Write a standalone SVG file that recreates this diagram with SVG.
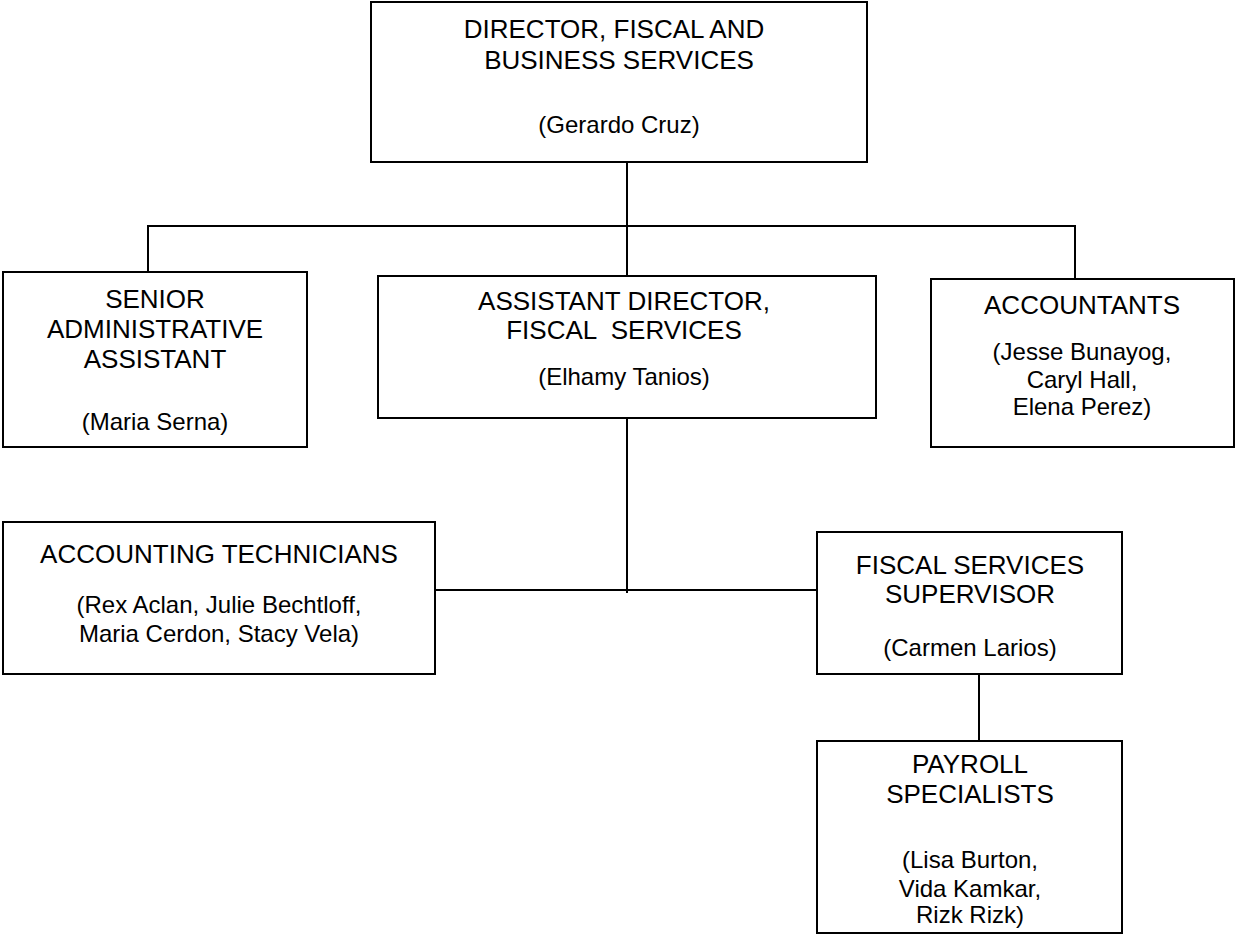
<svg xmlns="http://www.w3.org/2000/svg" width="1236" height="945" viewBox="0 0 1236 945">
<style>
.box{fill:#fff;stroke:#000;stroke-width:2}
line{stroke:#000;stroke-width:2}
text{font-family:"Liberation Sans",Arial,sans-serif;fill:#000;text-anchor:middle}
.t{font-size:26px}
.n{font-size:24px}
</style>
<rect width="1236" height="945" fill="#fff"/>
<g id="connectors">
<line x1="627" y1="162" x2="627" y2="276"/>
<line x1="147" y1="226" x2="1075" y2="226"/>
<line x1="148" y1="225" x2="148" y2="272"/>
<line x1="1075" y1="225" x2="1075" y2="279"/>
<line x1="627" y1="418" x2="627" y2="593"/>
<line x1="435" y1="590" x2="817" y2="590"/>
<line x1="979" y1="674" x2="979" y2="741"/>
</g>
<g id="director">
<rect class="box" x="371" y="2" width="496" height="160"/>
<text class="t" x="614" y="38">DIRECTOR, FISCAL AND</text>
<text class="t" x="619" y="69">BUSINESS SERVICES</text>
<text class="n" x="619" y="133">(Gerardo Cruz)</text>
</g>
<g id="senior-admin">
<rect class="box" x="3" y="272" width="304" height="175"/>
<text class="t" x="155" y="308">SENIOR</text>
<text class="t" x="155" y="338">ADMINISTRATIVE</text>
<text class="t" x="155" y="368">ASSISTANT</text>
<text class="n" x="155" y="430">(Maria Serna)</text>
</g>
<g id="assistant-director">
<rect class="box" x="378" y="276" width="498" height="142"/>
<text class="t" x="624" y="310">ASSISTANT DIRECTOR,</text>
<text class="t" x="624" y="339" xml:space="preserve">FISCAL  SERVICES</text>
<text class="n" x="624" y="385">(Elhamy Tanios)</text>
</g>
<g id="accountants">
<rect class="box" x="931" y="279" width="303" height="168"/>
<text class="t" x="1082" y="314">ACCOUNTANTS</text>
<text class="n" x="1082" y="360">(Jesse Bunayog,</text>
<text class="n" x="1082" y="388">Caryl Hall,</text>
<text class="n" x="1082" y="415">Elena Perez)</text>
</g>
<g id="accounting-technicians">
<rect class="box" x="3" y="522" width="432" height="152"/>
<text class="t" x="219" y="563">ACCOUNTING TECHNICIANS</text>
<text class="n" x="219" y="613">(Rex Aclan, Julie Bechtloff,</text>
<text class="n" x="219" y="642">Maria Cerdon, Stacy Vela)</text>
</g>
<g id="fiscal-supervisor">
<rect class="box" x="817" y="532" width="305" height="142"/>
<text class="t" x="970" y="574">FISCAL SERVICES</text>
<text class="t" x="970" y="603">SUPERVISOR</text>
<text class="n" x="970" y="656">(Carmen Larios)</text>
</g>
<g id="payroll">
<rect class="box" x="817" y="741" width="305" height="192"/>
<text class="t" x="970" y="773">PAYROLL</text>
<text class="t" x="970" y="803">SPECIALISTS</text>
<text class="n" x="970" y="868">(Lisa Burton,</text>
<text class="n" x="970" y="897">Vida Kamkar,</text>
<text class="n" x="970" y="923">Rizk Rizk)</text>
</g>
</svg>
